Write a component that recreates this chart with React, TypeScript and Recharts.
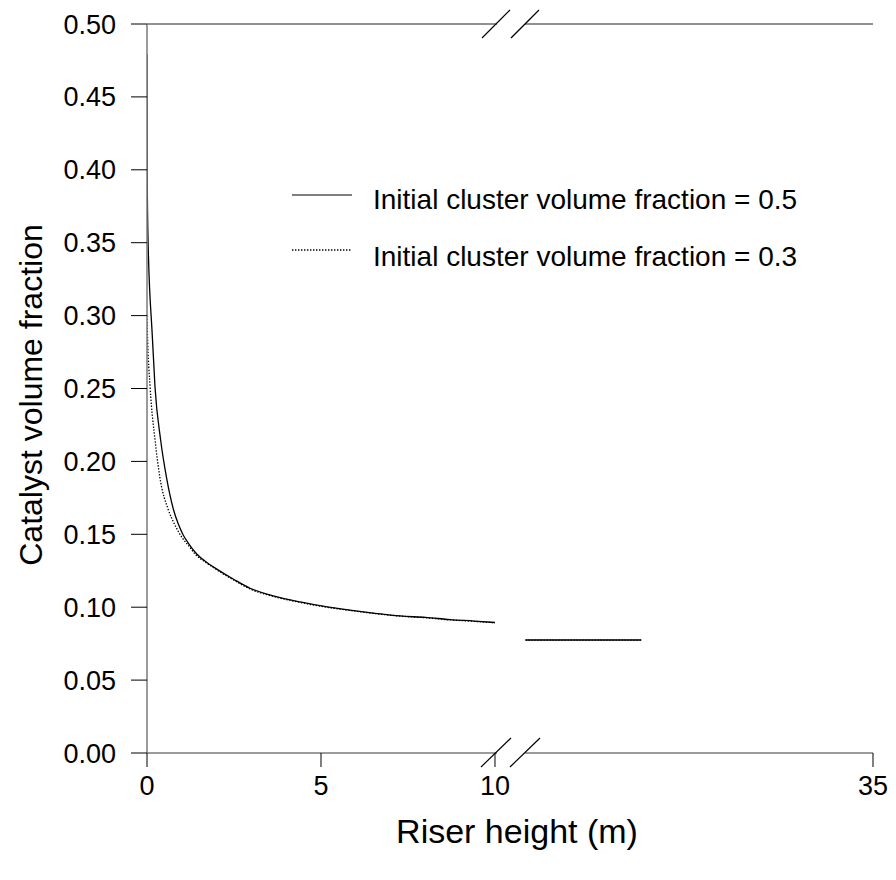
import React from 'react';
import { LineChart, Line, XAxis, YAxis, ReferenceLine, Legend } from 'recharts';

// ---- data (real riser height in m, catalyst volume fraction) ----
const heights05 = [0, 0.005, 0.03, 0.15, 0.23, 0.39, 0.56, 0.76, 0.9, 1.04, 1.2, 1.43, 1.7, 1.95, 2.5, 2.96, 3.6, 4.4, 5.1, 5.83, 6.5, 7.27, 8.0, 8.71, 9.4, 10];
const fraction05 = [0.479, 0.4, 0.352, 0.287, 0.251, 0.215, 0.189, 0.167, 0.157, 0.1495, 0.1435, 0.1365, 0.131, 0.127, 0.119, 0.113, 0.108, 0.1036, 0.1005, 0.098, 0.096, 0.094, 0.093, 0.0915, 0.0905, 0.0895];

const heights03 = [0, 0.01, 0.09, 0.23, 0.37, 0.61, 0.8, 1.0, 1.2, 1.38, 1.7, 1.95, 2.5, 2.96, 3.6, 4.4, 5.1, 5.83, 6.5, 7.27, 8.0, 8.71, 9.4, 10];
const fraction03 = [0.3, 0.29, 0.251, 0.215, 0.189, 0.167, 0.1565, 0.148, 0.142, 0.1365, 0.1305, 0.1265, 0.1185, 0.1125, 0.1076, 0.1033, 0.1002, 0.0978, 0.0958, 0.0939, 0.0928, 0.0913, 0.0903, 0.0893];

const heightsUpper05 = [11, 19];
const fractionUpper05 = [0.0775, 0.0775];
const heightsUpper03 = [11, 19];
const fractionUpper03 = [0.0774, 0.0774];

const xTickValues = [0, 5, 10, 35];
const yTickValues = [0, 0.05, 0.1, 0.15, 0.2, 0.25, 0.3, 0.35, 0.4, 0.45, 0.5];

const seriesNames = ['Initial cluster volume fraction = 0.5', 'Initial cluster volume fraction = 0.3'];
const xTitle = 'Riser height (m)';
const yTitle = 'Catalyst volume fraction';

// ---- broken-axis transform ----
const BREAK_T = 10.46;
const SECOND_SCALE = 0.4161;
const toT = (x: number) => (x <= 10 ? x : BREAK_T + (x - 10) * SECOND_SCALE);
const T_MAX = toT(35);

const build = (hs: number[], vs: number[]) => hs.map((h, i) => ({ t: toT(h), v: vs[i] }));

const data05 = build(heights05, fraction05);
const data03 = build(heights03, fraction03);
const dataUp05 = build(heightsUpper05, fractionUpper05);
const dataUp03 = build(heightsUpper03, fractionUpper03);

const FONT = '"Liberation Sans", Arial, sans-serif';

const renderLegend = () => (
  <svg width={560} height={110} style={{ display: 'block' }}>
    <line x1={0} y1={25} x2={60} y2={25} stroke="#000" strokeWidth={1.2} />
    <text x={81} y={39} fontSize={28} fontFamily={FONT} fill="#000">{seriesNames[0]}</text>
    <line x1={0} y1={80} x2={60} y2={80} stroke="#000" strokeWidth={1.4} strokeDasharray="1.4 1.6" />
    <text x={81} y={96} fontSize={28} fontFamily={FONT} fill="#000">{seriesNames[1]}</text>
  </svg>
);

const renderXTitle = (props: any) => {
  const vb = props.viewBox;
  return (
    <text x={vb.x + vb.width / 2 + 7} y={vb.y + 90} textAnchor="middle" fontSize={34} fontFamily={FONT} fill="#000">
      {props.value}
    </text>
  );
};

const renderYTitle = (props: any) => {
  const vb = props.viewBox;
  const x = 33.5;
  const y = vb.y + vb.height / 2 + 6.5;
  return (
    <text x={x} y={y} transform={`rotate(-90, ${x}, ${y})`} textAnchor="middle" fontSize={32} fontFamily={FONT} fill="#000">
      {props.value}
    </text>
  );
};

const AX = '#7a7a7a';

export default function App() {
  const gapStart = (497 - 147) / 34.8;
  const gapEnd = (525 - 147) / 34.8;
  return (
    <div style={{ width: 880, height: 864, fontFamily: FONT }}>
      <LineChart width={880} height={864} margin={{ top: 16, right: 15, bottom: 0, left: 0 }}>
        <XAxis
          type="number"
          dataKey="t"
          domain={[0, T_MAX]}
          allowDataOverflow
          ticks={xTickValues.map(toT)}
          tickFormatter={(t: number) => {
            const i = xTickValues.map(toT).findIndex((v) => Math.abs(v - t) < 1e-6);
            return i >= 0 ? String(xTickValues[i]) : '';
          }}
          axisLine={false}
          tickLine={{ stroke: '#000' }}
          tickSize={14}
          tickMargin={9}
          tick={{ fontSize: 27, fill: '#000', fontFamily: FONT }}
          height={119}
          label={{ value: xTitle, content: renderXTitle }}
        />
        <YAxis
          type="number"
          domain={[0, 0.5]}
          ticks={yTickValues}
          tickFormatter={(v: number) => v.toFixed(2)}
          axisLine={{ stroke: AX, strokeWidth: 1.5 }}
          tickLine={{ stroke: '#000' }}
          tickSize={16}
          tickMargin={15}
          tick={{ fontSize: 27, fill: '#000', fontFamily: FONT }}
          width={139}
          interval={0}
          label={{ value: yTitle, content: renderYTitle }}
        />
        {/* bottom axis line with break */}
        <ReferenceLine segment={[{ x: 0, y: 0 }, { x: gapStart, y: 0 }]} stroke={AX} strokeWidth={1.5} ifOverflow="visible" />
        <ReferenceLine segment={[{ x: gapEnd, y: 0 }, { x: T_MAX, y: 0 }]} stroke={AX} strokeWidth={1.5} ifOverflow="visible" />
        {/* top frame line with break */}
        <ReferenceLine segment={[{ x: 0, y: 0.5 }, { x: gapStart, y: 0.5 }]} stroke="#222" strokeWidth={1.2} ifOverflow="visible" />
        <ReferenceLine segment={[{ x: gapEnd, y: 0.5 }, { x: T_MAX, y: 0.5 }]} stroke="#222" strokeWidth={1.2} ifOverflow="visible" />
        {/* break slashes */}
        <ReferenceLine segment={[{ x: 9.598, y: -0.0096 }, { x: 10.46, y: 0.0103 }]} stroke="#000" strokeWidth={1.2} ifOverflow="visible" />
        <ReferenceLine segment={[{ x: 10.431, y: -0.0096 }, { x: 11.293, y: 0.0103 }]} stroke="#000" strokeWidth={1.2} ifOverflow="visible" />
        <ReferenceLine segment={[{ x: 9.626, y: 0.4904 }, { x: 10.431, y: 0.5096 }]} stroke="#000" strokeWidth={1.2} ifOverflow="visible" />
        <ReferenceLine segment={[{ x: 10.46, y: 0.4904 }, { x: 11.264, y: 0.5096 }]} stroke="#000" strokeWidth={1.2} ifOverflow="visible" />

        <Line data={data03} dataKey="v" type="monotone" stroke="#000" strokeWidth={1.3} strokeDasharray="1.4 1.6" dot={false} isAnimationActive={false} />
        <Line data={data05} dataKey="v" type="monotone" stroke="#000" strokeWidth={1.3} dot={false} isAnimationActive={false} />
        <Line data={dataUp03} dataKey="v" type="linear" stroke="#000" strokeWidth={1.3} strokeDasharray="1.4 1.6" dot={false} isAnimationActive={false} />
        <Line data={dataUp05} dataKey="v" type="linear" stroke="#000" strokeWidth={1.6} dot={false} isAnimationActive={false} />

        <Legend
          layout="horizontal"
          verticalAlign="middle"
          align="center"
          content={renderLegend}
          wrapperStyle={{ position: 'absolute', left: 284, top: 162, width: 560, height: 110 }}
        />
      </LineChart>
    </div>
  );
}
